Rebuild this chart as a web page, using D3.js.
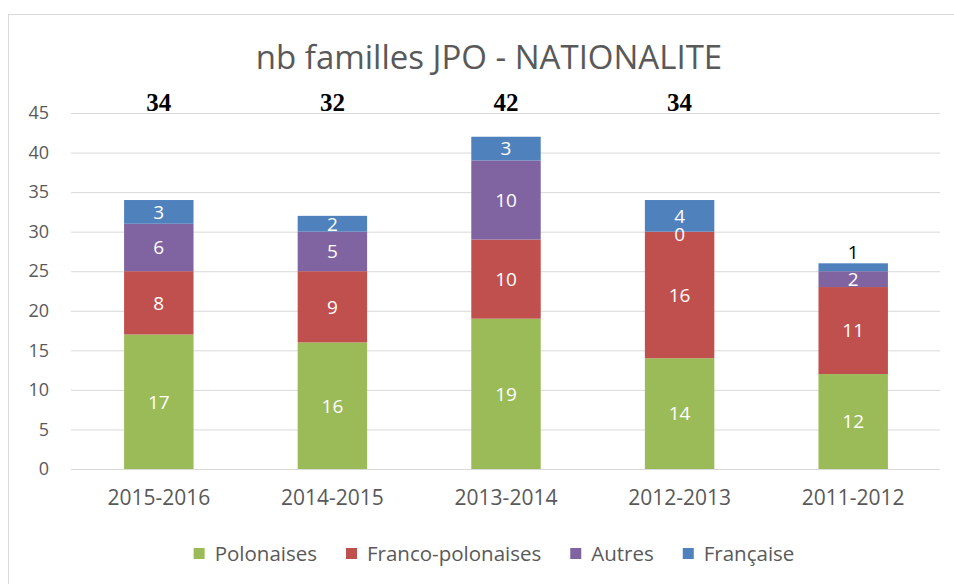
<!DOCTYPE html>
<html>
<head>
<meta charset="utf-8">
<script src="https://cdn.jsdelivr.net/npm/d3@7"></script>
<style>
  body { margin: 0; background: #fff; }
  svg { display: block; }
</style>
</head>
<body>
<svg id="chart" width="954" height="584"></svg>
<script>
// values
let years = ['2015-2016', '2014-2015', '2013-2014', '2012-2013', '2011-2012'];
let series = ['Polonaises', 'Franco-polonaises', 'Autres', 'Française'];
let polonaises = [17, 16, 19, 14, 12];
let francoPolonaises = [8, 9, 10, 16, 11];
let autres = [6, 5, 10, 0, 2];
let francaise = [3, 2, 3, 4, 1];
let totalLabels = ['34', '32', '42', '34', ''];
let yTicks = [0, 5, 10, 15, 20, 25, 30, 35, 40, 45];

let colors = d3.scaleOrdinal().domain(series).range(['#9bbb59', '#c0504d', '#8064a2', '#4f81bd']);

let rows = years.map((y, i) => ({
  year: y,
  'Polonaises': polonaises[i],
  'Franco-polonaises': francoPolonaises[i],
  'Autres': autres[i],
  'Française': francaise[i]
}));

let stack = d3.stack().keys(series)(rows);

let font = '"Open Sans", Lato, sans-serif';
let grey = '#595959';

let svg = d3.select('#chart');

// chart area border
svg.append('rect')
  .attr('x', 8.5).attr('y', 14.5)
  .attr('width', 980).attr('height', 620)
  .style('fill', 'none')
  .style('stroke', '#d9d9d9');

let xScale = d3.scaleBand().domain(years).range([72, 940]).paddingInner(0.6).paddingOuter(0.3);
let yScale = d3.scaleLinear().domain([0, 45]).range([469, 113]);

// gridlines + y labels
let yAxis = d3.axisLeft(yScale).tickValues(yTicks).tickSize(-(940 - 71)).tickPadding(22);
let gy = svg.append('g').attr('transform', 'translate(71,0)').call(yAxis);
gy.select('.domain').remove();
gy.selectAll('line').style('stroke', '#d9d9d9');
gy.selectAll('text').style('font-family', font).style('font-size', '18px').style('fill', grey);

// x labels
let xAxis = d3.axisBottom(xScale).tickSize(0).tickPadding(21);
let gx = svg.append('g').attr('transform', 'translate(0,469)').call(xAxis);
gx.select('.domain').remove();
gx.selectAll('text').style('font-family', font).style('font-size', '21px').style('fill', grey);

// bars
let layers = svg.selectAll('g.layer')
  .data(stack)
  .enter()
  .append('g')
  .attr('class', 'layer')
  .style('fill', d => colors(d.key));

layers.selectAll('rect')
  .data(d => d)
  .enter()
  .append('rect')
  .attr('x', d => xScale(d.data.year))
  .attr('y', d => yScale(d[1]))
  .attr('width', xScale.bandwidth())
  .attr('height', d => yScale(d[0]) - yScale(d[1]));

// segment labels, drawn after all the bars
let labelData = [];
stack.forEach(s => s.forEach(p => labelData.push({ p: p, v: p.data[s.key] })));

let outside = d => d.v > 0 && (yScale(d.p[0]) - yScale(d.p[1])) < 12;

svg.append('g').selectAll('text')
  .data(labelData)
  .enter()
  .append('text')
  .attr('x', d => xScale(d.p.data.year) + xScale.bandwidth() / 2)
  .attr('y', d => {
    if (outside(d)) return yScale(d.p[1]) - 11;
    let mid = (yScale(d.p[0]) + yScale(d.p[1])) / 2;
    return d.v === 0 ? mid + 2 : mid;
  })
  .attr('dy', '0.36em')
  .attr('text-anchor', 'middle')
  .style('font-family', font)
  .style('font-size', '19px')
  .style('fill', d => outside(d) ? '#000' : '#fff')
  .text(d => d.v);

// totals above
svg.selectAll('text.total')
  .data(years)
  .enter()
  .append('text')
  .attr('class', 'total')
  .attr('x', d => xScale(d) + xScale.bandwidth() / 2)
  .attr('y', 111)
  .attr('text-anchor', 'middle')
  .style('font-family', '"Liberation Serif", "DejaVu Serif", serif')
  .style('font-weight', 'bold')
  .style('font-size', '25px')
  .style('fill', '#000')
  .text((d, i) => totalLabels[i]);

// title
svg.append('text')
  .attr('x', 489)
  .attr('y', 69)
  .attr('text-anchor', 'middle')
  .style('font-family', font)
  .style('font-size', '33px')
  .style('fill', grey)
  .text('nb familles JPO - NATIONALITE');

// legend
let legend = svg.append('g').attr('transform', 'translate(0,554)');
let items = legend.selectAll('g.item')
  .data(series)
  .enter()
  .append('g')
  .attr('class', 'item');

items.append('rect')
  .attr('y', -6)
  .attr('width', 11)
  .attr('height', 11)
  .style('fill', d => colors(d));

items.append('text')
  .attr('x', 21)
  .attr('dy', '0.36em')
  .style('font-family', font)
  .style('font-size', '20.5px')
  .style('fill', grey)
  .text(d => d);

let widths = [];
items.each(function () {
  widths.push(21 + this.querySelector('text').getComputedTextLength());
});
let gap = 29;
let lx = 494 - (d3.sum(widths) + gap * (widths.length - 1)) / 2;
items.attr('transform', (d, i) => {
  let x = lx;
  lx += widths[i] + gap;
  return `translate(${x},0)`;
});
</script>
</body>
</html>
